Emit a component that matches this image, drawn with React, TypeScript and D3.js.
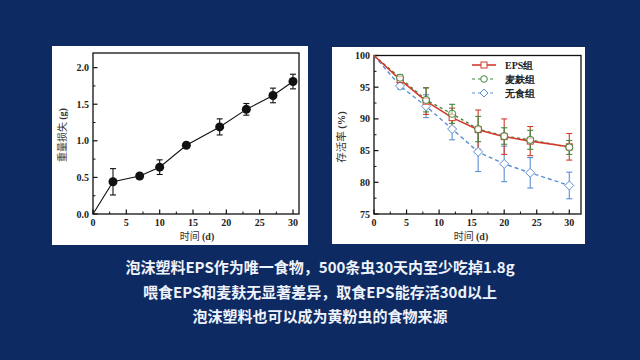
import React from "react";
import * as d3 from "d3";

const lossDays = [0, 3, 7, 10, 14, 19, 23, 27, 30];
const lossValues = [0, 0.44, 0.52, 0.64, 0.94, 1.19, 1.43, 1.62, 1.81];
const lossErrors = [0, 0.18, 0.03, 0.1, 0.02, 0.11, 0.08, 0.1, 0.1];
const lossYTicks = [0, 0.5, 1.0, 1.5, 2.0];
const xTicks = [0, 5, 10, 15, 20, 25, 30];

const survDays = [0, 4, 8, 12, 16, 20, 24, 30];
const epsValues = [100, 96.2, 92.8, 90.2, 88.3, 87.2, 86.5, 85.6];
const epsErrors = [0, 0.5, 2.1, 1.5, 3.1, 2.8, 2.3, 2.1];
const branValues = [100, 96.5, 93.0, 90.8, 88.4, 87.3, 86.7, 85.5];
const branErrors = [0, 0.5, 1.9, 1.5, 2.0, 1.3, 1.5, 1.1];
const noneValues = [100, 95.2, 92.0, 88.4, 84.8, 82.9, 81.5, 79.5];
const noneErrors = [0, 0.5, 1.8, 1.7, 3.1, 2.8, 2.4, 2.1];
const survYTicks = [75, 80, 85, 90, 95, 100];
const legendLabels = ["EPS组", "麦麸组", "无食组"];

const captionLines = [
  "泡沫塑料EPS作为唯一食物，500条虫30天内至少吃掉1.8g",
  "喂食EPS和麦麸无显著差异，取食EPS能存活30d以上",
  "泡沫塑料也可以成为黄粉虫的食物来源",
];

const BG = "#0e2a63";
const SERIF = "'Liberation Serif', 'DejaVu Serif', serif";
const CJK = "'Noto Sans CJK SC', sans-serif";

function Frame({ x0, x1, y0, y1, xs, ys, xMinor, yMinor, xMajor, yMajor, yFmt }: any) {
  return (
    <g>
      <rect x={x0} y={y0} width={x1 - x0} height={y1 - y0} fill="none" stroke="#111" strokeWidth={1.3} />
      {xMinor.map((t: number, i: number) => (
        <line key={"xm" + i} x1={xs(t)} x2={xs(t)} y1={y1} y2={y1 - 2.5} stroke="#111" strokeWidth={1} />
      ))}
      {xMajor.map((t: number, i: number) => (
        <g key={"xM" + i}>
          <line x1={xs(t)} x2={xs(t)} y1={y1} y2={y1 - 4.5} stroke="#111" strokeWidth={1.2} />
          <text x={xs(t)} y={y1 + 12} textAnchor="middle" fontFamily={SERIF} fontWeight="bold" fontSize={10} fill="#222">
            {t}
          </text>
        </g>
      ))}
      {yMinor.map((t: number, i: number) => (
        <line key={"ym" + i} x1={x0} x2={x0 + 2.5} y1={ys(t)} y2={ys(t)} stroke="#111" strokeWidth={1} />
      ))}
      {yMajor.map((t: number, i: number) => (
        <g key={"yM" + i}>
          <line x1={x0} x2={x0 + 4.5} y1={ys(t)} y2={ys(t)} stroke="#111" strokeWidth={1.2} />
          <text x={x0 - 4} y={ys(t) + 3.5} textAnchor="end" fontFamily={SERIF} fontWeight="bold" fontSize={10} fill="#222">
            {yFmt(t)}
          </text>
        </g>
      ))}
    </g>
  );
}

function ErrorBars({ xs, ys, days, vals, errs, color }: any) {
  return (
    <g stroke={color} strokeWidth={1.1}>
      {days.map((d: number, i: number) =>
        errs[i] > 0 ? (
          <g key={i}>
            <line x1={xs(d)} x2={xs(d)} y1={ys(vals[i] - errs[i])} y2={ys(vals[i] + errs[i])} />
            <line x1={xs(d) - 3} x2={xs(d) + 3} y1={ys(vals[i] - errs[i])} y2={ys(vals[i] - errs[i])} />
            <line x1={xs(d) - 3} x2={xs(d) + 3} y1={ys(vals[i] + errs[i])} y2={ys(vals[i] + errs[i])} />
          </g>
        ) : null
      )}
    </g>
  );
}

export default function App() {
  // Left chart
  const lx = d3.scaleLinear().domain([0, 30.9]).range([93, 299]);
  const ly = d3.scaleLinear().domain([0, 2.2]).range([214, 53]);
  const lossLine = d3
    .line<number>()
    .x((_, i) => lx(lossDays[i]))
    .y((v) => ly(v));

  // Right chart
  const rx = d3.scaleLinear().domain([0, 31.8]).range([374, 581]);
  const ry = d3.scaleLinear().domain([75, 100]).range([214, 55.5]);
  const survLine = d3
    .line<number>()
    .x((_, i) => rx(survDays[i]))
    .y((v) => ry(v));

  const minorX = d3.range(0, 31, 2.5).filter((t) => t % 5 !== 0);
  const minorLY = d3.range(0.25, 2.2, 0.5);
  const minorRY = d3.range(77.5, 100, 5);

  const red = "#d23a2e";
  const green = "#3e8a3a";
  const blue = "#5b8fd2";

  const diamond = (cx: number, cy: number, r: number) =>
    `M${cx},${cy - r}L${cx + r},${cy}L${cx},${cy + r}L${cx - r},${cy}Z`;

  return (
    <svg width={640} height={360} style={{ position: "absolute", left: 0, top: 0, display: "block" }}>
      <rect x={0} y={0} width={640} height={360} fill={BG} />

      {/* Left panel */}
      <rect x={52} y={46} width={256} height={199} fill="#fff" />
      <Frame
        x0={93}
        x1={299}
        y0={53}
        y1={214}
        xs={lx}
        ys={ly}
        xMinor={minorX}
        yMinor={minorLY}
        xMajor={xTicks}
        yMajor={lossYTicks}
        yFmt={(t: number) => t.toFixed(1)}
      />
      <path d={lossLine(lossValues) || ""} fill="none" stroke="#111" strokeWidth={1.1} />
      <ErrorBars xs={lx} ys={ly} days={lossDays} vals={lossValues} errs={lossErrors} color="#111" />
      {lossDays.map((d, i) =>
        i > 0 ? <circle key={i} cx={lx(d)} cy={ly(lossValues[i])} r={4.5} fill="#111" /> : null
      )}
      <text
        transform={`translate(66,135) rotate(-90)`}
        textAnchor="middle"
        fontFamily={CJK}
        fontSize={10}
        fill="#333"
      >
        重量损失 <tspan fontFamily={SERIF} fontWeight="bold">(g)</tspan>
      </text>
      <text x={197} y={240} textAnchor="middle" fontFamily={CJK} fontSize={10} fill="#333">
        时间 <tspan fontFamily={SERIF} fontWeight="bold">(d)</tspan>
      </text>

      {/* Right panel */}
      <rect x={332} y={47} width={253} height={197} fill="#fff" />
      <Frame
        x0={374}
        x1={581}
        y0={55.5}
        y1={214}
        xs={rx}
        ys={ry}
        xMinor={minorX}
        yMinor={minorRY}
        xMajor={xTicks}
        yMajor={survYTicks}
        yFmt={(t: number) => String(t)}
      />
      <ErrorBars xs={rx} ys={ry} days={survDays} vals={noneValues} errs={noneErrors} color={blue} />
      <ErrorBars xs={rx} ys={ry} days={survDays} vals={epsValues} errs={epsErrors} color={red} />
      <ErrorBars xs={rx} ys={ry} days={survDays} vals={branValues} errs={branErrors} color={green} />
      <path d={survLine(noneValues) || ""} fill="none" stroke={blue} strokeWidth={1.4} strokeDasharray="4,3" />
      <path d={survLine(branValues) || ""} fill="none" stroke={green} strokeWidth={1.3} strokeDasharray="3,3" />
      <path d={survLine(epsValues) || ""} fill="none" stroke={red} strokeWidth={1.6} />
      {survDays.map((d, i) =>
        i > 0 ? (
          <g key={i}>
            <path d={diamond(rx(d), ry(noneValues[i]), 4.5)} fill="#fff" stroke={blue} strokeWidth={1} />
            <rect x={rx(d) - 3} y={ry(epsValues[i]) - 3} width={6} height={6} fill="#fff" stroke={red} strokeWidth={1} />
            <circle cx={rx(d)} cy={ry(branValues[i])} r={3.6} fill="#fff" fillOpacity={0.6} stroke={green} strokeWidth={1} />
          </g>
        ) : null
      )}
      {/* Legend */}
      {legendLabels.map((lab, i) => {
        const y = 65 + i * 14;
        const col = [red, green, blue][i];
        return (
          <g key={lab}>
            <line
              x1={472}
              x2={496}
              y1={y}
              y2={y}
              stroke={col}
              strokeWidth={i === 0 ? 1.6 : 1.2}
              strokeDasharray={i === 0 ? undefined : "3,3"}
            />
            {i === 0 ? (
              <rect x={481} y={y - 3} width={6} height={6} fill="#fff" stroke={col} strokeWidth={1} />
            ) : i === 1 ? (
              <circle cx={484} cy={y} r={3.3} fill="#fff" stroke={col} strokeWidth={1} />
            ) : (
              <path d={diamond(484, y, 4)} fill="#fff" stroke={col} strokeWidth={1} />
            )}
            <text x={505} y={y + 3.5} fontFamily={SERIF} fontWeight="bold" fontSize={10} fill="#222">
              {lab}
            </text>
          </g>
        );
      })}
      <text
        transform={`translate(345,137) rotate(-90)`}
        textAnchor="middle"
        fontFamily={CJK}
        fontSize={10.5}
        fill="#333"
      >
        存活率 <tspan fontFamily={SERIF} fontWeight="bold">(%)</tspan>
      </text>
      <text x={471} y={240} textAnchor="middle" fontFamily={CJK} fontSize={10} fill="#333">
        时间 <tspan fontFamily={SERIF} fontWeight="bold">(d)</tspan>
      </text>

      {/* Caption */}
      {captionLines.map((line, i) => (
        <text
          key={i}
          x={320}
          y={273 + i * 24.5}
          textAnchor="middle"
          fontFamily={CJK}
          fontWeight="bold"
          fontSize={15}
          fill="#eef3fb"
        >
          {line}
        </text>
      ))}
    </svg>
  );
}
